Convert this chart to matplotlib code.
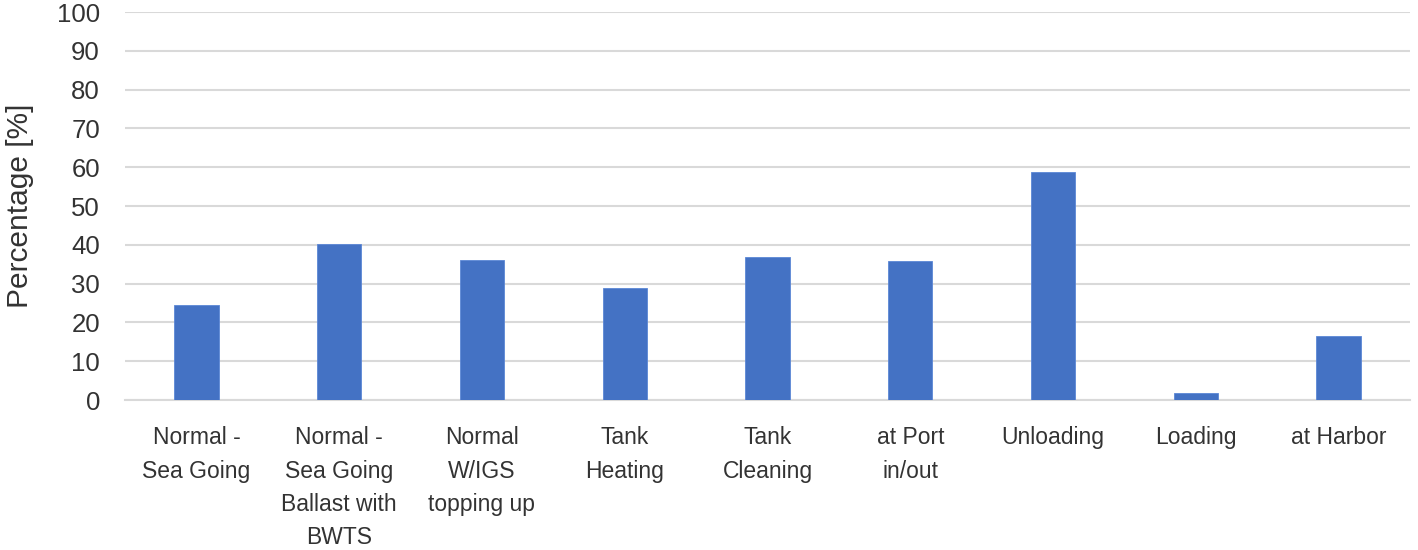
import numpy as np
import matplotlib.pyplot as plt

plt.rcParams['font.family'] = ['Liberation Sans', 'DejaVu Sans']

# categories and values
categories = ["Normal -\nSea Going", "Normal -\nSea Going\nBallast with\nBWTS",
              "Normal\nW/IGS\ntopping up", "Tank\nHeating", "Tank\nCleaning",
              "at Port\nin/out", "Unloading", "Loading", "at Harbor"]
values = [24.5, 40.3, 36.1, 28.8, 36.8, 35.7, 58.8, 1.9, 16.4]
yticks = [0, 10, 20, 30, 40, 50, 60, 70, 80, 90, 100]

text_col = "#333333"
grid_col = "#d9d9d9"

fig = plt.figure(figsize=(14.18, 5.5), dpi=100)
ax = fig.add_axes([125/1418, 1 - 400/550, (1410 - 125)/1418, (400 - 12)/550])

x = np.arange(len(categories))
ax.bar(x, values, width=0.31, color="#4472C4", edgecolor="#5b87d6", linewidth=0.6, zorder=3)

ax.set_xlim(-0.5, len(categories) - 0.5)
ax.set_ylim(0, 100)
ax.set_yticks(yticks)
ax.set_yticklabels([str(t) for t in yticks], fontsize=18.5, color=text_col)
ax.set_xticks(x)
ax.set_xticklabels(categories, fontsize=16.5, color=text_col, linespacing=1.57, va="top")

ax.yaxis.grid(True, color=grid_col, linewidth=1.5, zorder=0)
for s in ["top", "right", "left"]:
    ax.spines[s].set_visible(False)
ax.spines["bottom"].set_color(grid_col)
ax.spines["bottom"].set_linewidth(1.5)
ax.tick_params(axis="both", length=0)
ax.tick_params(axis="y", pad=18)
ax.tick_params(axis="x", pad=19)

ax.set_ylabel("Percentage [%]", fontsize=21.5, color=text_col)
ax.yaxis.set_label_coords(-91/1285, 0.5)

fig.savefig("out.png", dpi=100)
